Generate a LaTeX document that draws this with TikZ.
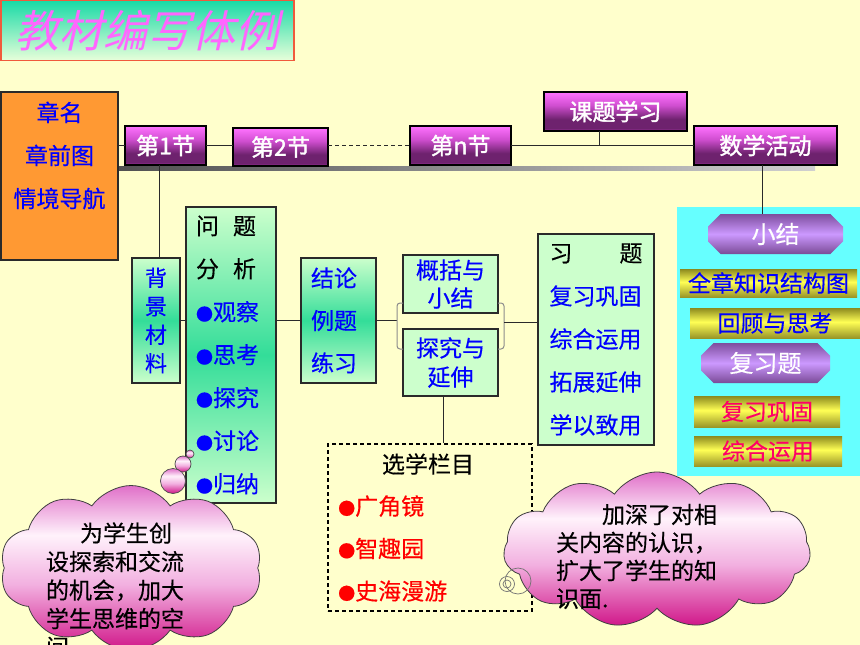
\documentclass[tikz,border=0pt]{standalone}
\usepackage{fontspec}
\setmainfont{Noto Sans CJK SC}[FakeBold=0.4]
\newfontfamily\titlefont[FakeSlant=0.22]{Noto Sans CJK SC}
\newfontfamily\boldcjk[FakeBold=1.6]{Noto Sans CJK SC}
\newcommand\bul{{\fontsize{17}{17}\selectfont ●}}
\usetikzlibrary{shapes.misc,shapes.symbols}
\definecolor{bgy}{HTML}{FFFFCC}
\definecolor{cyanp}{HTML}{66FFFF}
\definecolor{tiT}{HTML}{18DAA6}
\definecolor{tiB}{HTML}{E8FFDA}
\definecolor{tiBorder}{HTML}{F05A3C}
\definecolor{tipink}{HTML}{FF66FF}
\definecolor{orangeC}{HTML}{FF9933}
\definecolor{magT}{HTML}{FF72FF}
\definecolor{magM}{HTML}{D04ED0}
\definecolor{magD}{HTML}{6E226E}
\definecolor{magB}{HTML}{D846D8}
\definecolor{grL}{HTML}{CCFFCC}
\definecolor{grM}{HTML}{33DD99}
\definecolor{purT}{HTML}{7E4E9E}
\definecolor{purM}{HTML}{CC99FF}
\definecolor{purB}{HTML}{7A4A96}
\definecolor{yelT}{HTML}{8C8A1E}
\definecolor{yelM}{HTML}{FFFF55}
\definecolor{yelB}{HTML}{9A9628}
\definecolor{txtblue}{HTML}{0000FF}
\definecolor{pinkred}{HTML}{FF0066}
\definecolor{redt}{HTML}{FF0000}
\definecolor{clT}{HTML}{E070C8}
\definecolor{clW}{HTML}{FFF2FB}
\definecolor{clP}{HTML}{F2B0E0}
\definecolor{clB}{HTML}{D01588}
\definecolor{edge}{HTML}{2A2A2A}
\definecolor{gbarL}{HTML}{505050}
\definecolor{gbarR}{HTML}{D0D0D0}
\pgfdeclareverticalshading{magbar}{100bp}{color(0bp)=(magB); color(25bp)=(magB); color(28bp)=(magD); color(40bp)=(magD); color(58bp)=(magM); color(75bp)=(magT); color(100bp)=(magT)}
\pgfdeclareverticalshading{yelbar}{100bp}{color(0bp)=(yelB); color(25bp)=(yelB); color(52bp)=(yelM); color(75bp)=(yelT); color(100bp)=(yelT)}
\pgfdeclareverticalshading{purbar}{100bp}{color(0bp)=(purB); color(25bp)=(purB); color(50bp)=(purM); color(75bp)=(purT); color(100bp)=(purT)}
\pgfdeclareverticalshading{cloudsh}{100bp}{color(0bp)=(clB); color(25bp)=(clB); color(45bp)=(clP); color(60bp)=(clW); color(75bp)=(clT); color(100bp)=(clT)}
\pgfdeclareverticalshading{titlesh}{100bp}{color(0bp)=(tiB); color(25bp)=(tiB); color(75bp)=(tiT); color(100bp)=(tiT)}
\tikzset{
  bx/.style={draw=edge, line width=1.3pt, inner sep=0pt, outer sep=0pt},
  magbox/.style={bx, draw=black, shade, shading=magbar, text=white, font=\boldcjk\fontsize{23}{27}\selectfont},
  grnshade/.style={bx, shade, top color=grL, bottom color=grL, middle color=grM},
  grnplain/.style={bx, fill=grL},
  octbox/.style={chamfered rectangle, chamfered rectangle xsep=9pt, inner sep=0pt, draw=none, shade, shading=purbar, text=white, font=\fontsize{24}{28}\selectfont},
  yelbox/.style={rectangle, inner sep=0pt, draw=none, shade, shading=yelbar, font=\fontsize{23}{27}\selectfont},
  conn/.style={draw=edge, line width=1pt},
  brk/.style={draw=black!45, line width=1pt, rounded corners=3pt},
  dashbox/.style={draw=black, line width=1.2pt, dash pattern=on 4pt off 3pt, inner sep=0pt},
  cloudbox/.style={cloud, draw=black!75, line width=0.8pt, shade, shading=cloudsh, inner sep=0pt},
  bubble/.style={circle, draw=black!70, line width=0.7pt, shade, shading=cloudsh, inner sep=0pt},
  ring/.style={circle, draw=black!55, line width=0.7pt, inner sep=0pt},
  ctext/.style={align=left, inner sep=0pt}
}
\begin{document}
\begin{tikzpicture}[x=1pt,y=-1pt]
\useasboundingbox (0,0) rectangle (860,645);
\fill[bgy] (0,0) rectangle (860,645);
\fill[cyanp] (677,207) rectangle (860,476);
\shade[left color=gbarL, right color=gbarR] (118,166) rectangle (815,170);

% title
\node[draw=tiBorder, line width=1.3pt, shade, shading=titlesh, minimum width=293pt, minimum height=60pt, inner sep=0pt] (title) at (147.5,30.5) {\titlefont\fontsize{44}{48}\selectfont\textcolor{tipink}{教材编写体例}};

% top row
\node[bx, fill=orangeC, minimum width=117pt, minimum height=168pt, align=center, text=txtblue, font=\fontsize{23}{43}\selectfont] (zm) at (59.5,176) {章名\\章前图\\情境导航\\\mbox{}};
\node[magbox, minimum width=81pt, minimum height=39pt] (s1) at (165.5,145.5) {第1节};
\node[magbox, minimum width=95pt, minimum height=38pt] (s2) at (280.5,147) {第2节};
\node[magbox, minimum width=101pt, minimum height=39pt] (sn) at (460.5,145.5) {第n节};
\node[magbox, minimum width=143pt, minimum height=39pt] (kt) at (615.5,111.5) {课题学习};
\node[magbox, minimum width=143pt, minimum height=39pt] (ma) at (765.5,145.5) {数学活动};

% middle boxes
\node[grnshade, minimum width=48pt, minimum height=125pt, align=center, text=txtblue, font=\fontsize{22}{28.5}\selectfont] (bg) at (156,320.5) {背\\景\\材\\料};
\node[grnshade, text width=70pt, inner xsep=10pt, minimum height=296pt, align=left, font=\fontsize{23}{43}\selectfont] (wt) at (231,355) {问\hspace{14pt}题\\分\hspace{14pt}析\\\textcolor{txtblue}{\bul 观察}\\\textcolor{txtblue}{\bul 思考}\\\textcolor{txtblue}{\bul 探究}\\\textcolor{txtblue}{\bul 讨论}\\\textcolor{txtblue}{\bul 归纳}};
\node[grnshade, text width=55pt, inner xsep=10pt, minimum height=125pt, align=left, text=txtblue, font=\fontsize{23}{42.5}\selectfont] (jl) at (338.5,320.5) {结论\\例题\\练习};
\node[grnplain, minimum width=95pt, minimum height=58pt, align=center, text=txtblue, font=\fontsize{23}{28}\selectfont] (gk) at (450.5,284) {概括与\\小结};
\node[grnplain, minimum width=95pt, minimum height=67pt, align=center, text=txtblue, font=\fontsize{23}{29}\selectfont] (tj) at (450.5,362.5) {探究与\\延伸};
\node[grnplain, text width=93pt, inner xsep=11.5pt, minimum height=211pt, align=left, font=\fontsize{23}{43}\selectfont] (xt) at (596,339.5) {习\hspace{47pt}题\\\textcolor{txtblue}{复习巩固}\\\textcolor{txtblue}{综合运用}\\\textcolor{txtblue}{拓展延伸}\\\textcolor{txtblue}{学以致用}};

% optional column box
\node[dashbox, minimum width=204pt, minimum height=167pt] (xx) at (430,527.5) {};
\node[inner sep=0pt, font=\fontsize{23}{27}\selectfont] (xxt) at (428,464) {选学栏目};
\node[ctext, anchor=west, text=redt, font=\fontsize{23}{42.5}\selectfont] (xxl) at (338,548.5) {\bul 广角镜\\\bul 智趣园\\\bul 史海漫游};

% right panel
\node[octbox, minimum width=135pt, minimum height=40pt] (xj) at (775.5,234) {小结};
\node[yelbox, minimum width=177pt, minimum height=28pt, text=txtblue] (qz) at (768.5,283) {全章知识结构图};
\node[yelbox, minimum width=170pt, minimum height=30pt, text=txtblue] (hg) at (775,323) {回顾与思考};
\node[octbox, minimum width=129pt, minimum height=40pt] (fx) at (765.5,363) {复习题};
\node[yelbox, minimum width=146pt, minimum height=31pt, text=pinkred] (fg) at (767,411.5) {复习巩固};
\node[yelbox, minimum width=148pt, minimum height=30pt, text=pinkred] (zh) at (768,451) {综合运用};

% connectors
\coordinate (kj) at (599,145.5);
\coordinate (bl) at (397,322);
\coordinate (br) at (504,322);
\draw[conn] (zm.east |- s1) -- (s1.west);
\draw[conn] (s1.east) -- (s1.east -| s2.west);
\draw[conn, dash pattern=on 4pt off 3pt] (s2.east |- s1) -- (sn.west);
\draw[conn] (sn.east) -- (ma.west);
\draw[conn] (kt.south -| kj) -- (kj);
\draw[conn] ([xshift=3pt]bg.north |- s1.south) -- ([xshift=3pt]bg.north);
\draw[conn] ([xshift=-3.5pt]ma.south) -- ([xshift=-3.5pt]ma.south |- xj.north);
\draw[conn] (bg.east) -- (bg.east -| wt.west);
\draw[conn] (wt.east |- jl) -- (jl.west);
\draw[conn] (jl.east) -- (jl.east -| bl);
\draw[brk] (403,303) -- (397,303) -- (397,349) -- (403,349);
\draw[brk] (498,303) -- (504,303) -- (504,349) -- (498,349);
\draw[conn] (br) -- (br -| xt.west);
\draw[conn] ([xshift=-7pt]tj.south) -- ([xshift=-7pt]tj.south |- xx.north);

% left cloud
\node[bubble, minimum size=8pt] (b3) at (190,454) {};
\node[bubble, minimum size=16pt] (b2) at (183,464) {};
\node[bubble, minimum size=25pt] (b1) at (173,481) {};
\node[cloudbox, cloud puffs=10, cloud puff arc=110, aspect=1.6, minimum width=262pt, minimum height=165pt] (c1) at (131,568) {};
\node[ctext, text width=144pt, font=\fontsize{23}{28.5}\selectfont] (c1t) at (118,590) {\hspace*{34pt}为学生创\\设探索和交流\\的机会，加大\\学生思维的空\\间};

% right cloud
\node[cloudbox, cloud puffs=11, cloud puff arc=110, aspect=1.95, minimum width=307pt, minimum height=156pt] (c2) at (657,550) {};
\node[ring, minimum size=26pt] (r1) at (518,581) {};
\node[ring, minimum size=15pt] (r2) at (507,584) {};
\node[ring, minimum size=8pt] (r3) at (507,584) {};
\node[ctext, text width=168pt, font=\fontsize{23}{28}\selectfont] (c2t) at (640,556.5) {\hspace*{46pt}加深了对相\\关内容的认识，\\扩大了学生的知\\识面.};
\end{tikzpicture}
\end{document}
